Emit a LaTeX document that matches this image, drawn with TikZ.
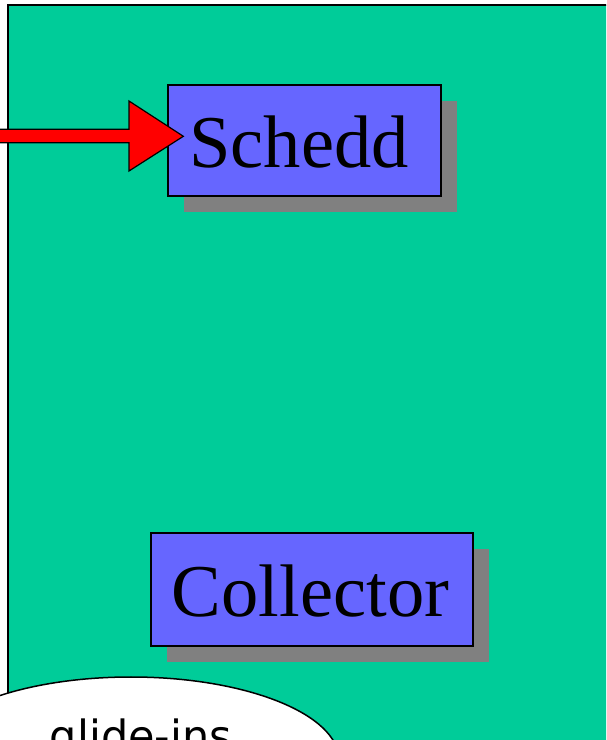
\documentclass[tikz,border=0pt]{standalone}
\usepackage{fontspec}
\setmainfont{Liberation Serif}
\newfontfamily\glidefont{DejaVu Sans}
\usetikzlibrary{shapes.geometric,shadows,calc}
\definecolor{bggreen}{HTML}{00CC99}
\definecolor{boxblue}{HTML}{6666FF}
\definecolor{shadowgray}{HTML}{808080}
\tikzset{
  daemon/.style={draw=black, line width=1.3pt, fill=boxblue, inner sep=0pt,
    font=\fontsize{74.5}{80}\selectfont, text height=55pt, text depth=0pt,
    drop shadow={shadow xshift=16pt, shadow yshift=-16pt, fill=shadowgray, opacity=1}},
  bigarrow/.style={draw=black, line width=1.2pt, fill=red, line join=miter},
  bubble/.style={ellipse, draw=black, line width=1.5pt, fill=white, inner sep=0pt,
    font=\glidefont\fontsize{43}{50}\selectfont, text height=12pt, text depth=30pt}
}
\begin{document}
\begin{tikzpicture}[x=1pt,y=1pt]
\useasboundingbox (0,0) rectangle (606,740);
\clip (0,0) rectangle (606,740);
\fill[white] (0,0) rectangle (606,740);
\draw[fill=bggreen, line width=1.2pt] (8,735) rectangle (640,-40);
\node[daemon, minimum width=273pt, minimum height=111pt] (schedd) at (304.5,599.5) {Schedd\rule{11pt}{0pt}};
\node[daemon, minimum width=322pt, minimum height=113pt] (collector) at (312,150.5) {Collector\rule{3pt}{0pt}};
\coordinate (arrowtail) at (-10,603.7);
\coordinate (tip) at ($(schedd.west)+(16,4.2)$);
\draw[bigarrow] ($(arrowtail)+(0,7)$) -- ++(139,0) -- ++(0,28.3) -- (tip)
  -- ($(arrowtail)+(139,-34.7)$) -- ++(0,28.3) -- ++(-139,0) -- cycle;
\node[bubble, minimum width=416pt, minimum height=166pt] (glide) at (131,-20) {\hspace{20pt}glide-ins};
\end{tikzpicture}
\end{document}
